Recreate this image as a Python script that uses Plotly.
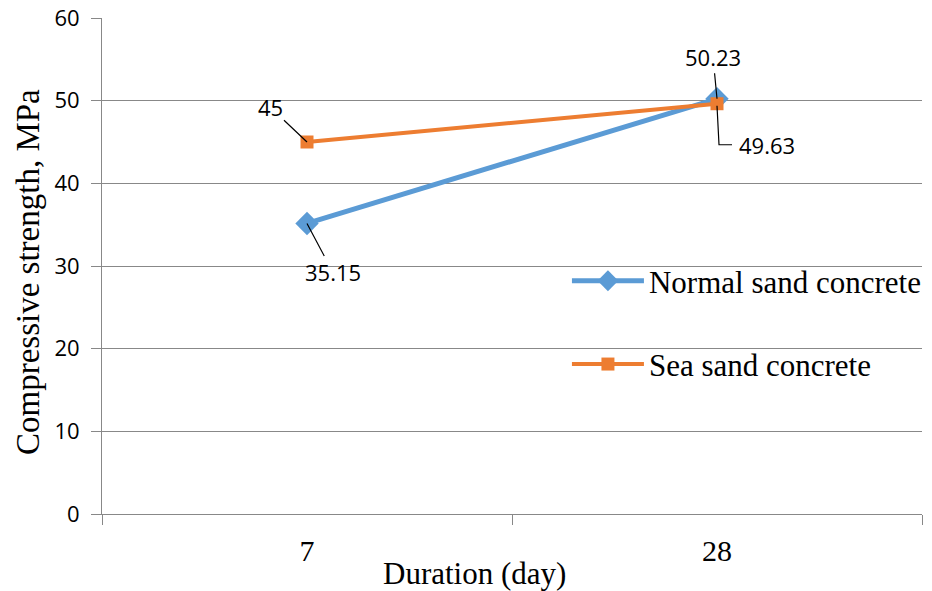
import plotly.graph_objects as go

categories = ["7", "28"]
normal_sand = [35.15, 50.23]
sea_sand = [45, 49.63]
y_ticks = [0, 10, 20, 30, 40, 50, 60]

fig = go.Figure()
fig.add_trace(go.Scatter(
    x=categories, y=normal_sand, name="Normal sand concrete",
    mode="lines+markers", legendgroup="a",
    line=dict(color="#5B9BD5", width=5),
    marker=dict(symbol="diamond", size=18, color="#5B9BD5"),
))
fig.add_trace(go.Scatter(
    x=categories, y=sea_sand, name="Sea sand concrete",
    mode="lines+markers", legendgroup="b",
    line=dict(color="#ED7D31", width=4),
    marker=dict(symbol="square", size=13, color="#ED7D31"),
))

lab_font = dict(family="Open Sans, Liberation Sans, sans-serif", size=22, color="#000")
ann = [
    (0, sea_sand[0], "45", -37, -35),
    (0, normal_sand[0], "35.15", 26, 49),
    (1, normal_sand[1], "50.23", -4, -42),
]
for x, y, t, ax, ay in ann:
    fig.add_annotation(x=x, y=y, xref="x", yref="y", text=t, showarrow=True, arrowhead=0,
                       arrowwidth=1.2, arrowcolor="#000", ax=ax, ay=ay,
                       font=lab_font, standoff=0)

# elbow leader for 49.63
fig.add_annotation(x=1, y=sea_sand[1], xref="x", yref="y", text="49.63", showarrow=False,
                   xanchor="left", yanchor="middle", xshift=20, yshift=-41, font=lab_font)
fig.add_shape(type="path", xref="x", yref="y", xsizemode="pixel", ysizemode="pixel",
              xanchor=1, yanchor=sea_sand[1], path="M0,-2 L2,-41 L15,-41",
              line=dict(color="#000", width=1.2))

serif = "Liberation Serif, Times New Roman, serif"
fig.add_annotation(text="Duration (day)", xref="paper", yref="paper", x=0.4537, y=-0.119,
                   xanchor="center", yanchor="middle", showarrow=False,
                   font=dict(family=serif, size=31, color="#000"))
fig.add_annotation(text="Compressive strength, MPa", xref="paper", yref="paper", x=-0.0902, y=0.488,
                   xanchor="center", yanchor="middle", showarrow=False, textangle=-90,
                   font=dict(family=serif, size=33, color="#000"))

axis_col = "#888888"
fig.update_layout(
    width=932, height=591, autosize=False,
    margin=dict(l=102, r=10, t=18, b=77, autoexpand=False),
    plot_bgcolor="white", paper_bgcolor="white",
    showlegend=True,
    legend=dict(x=0.567, y=0.524, xanchor="left", yanchor="top",
                font=dict(family=serif, size=31, color="#000"),
                bgcolor="rgba(0,0,0,0)", tracegroupgap=40, traceorder="grouped",
                itemwidth=72),
    xaxis=dict(
        type="category", range=[-0.5, 1.5], tickson="boundaries", automargin=False,
        ticks="outside", ticklen=10, tickcolor=axis_col,
        showline=True, linecolor=axis_col, linewidth=1,
        showgrid=False, ticklabelstandoff=10,
        tickfont=dict(family=serif, size=30, color="#000"),
    ),
    yaxis=dict(
        range=[0, 60], tickvals=y_ticks, automargin=False,
        ticks="outside", ticklen=10, tickcolor=axis_col,
        showline=True, linecolor=axis_col, linewidth=1,
        showgrid=True, gridcolor=axis_col, gridwidth=1,
        zeroline=False, ticklabelstandoff=7,
        tickfont=dict(family="Open Sans, Liberation Sans, sans-serif", size=22, color="#000"),
    ),
)
fig.write_html("out.html")
